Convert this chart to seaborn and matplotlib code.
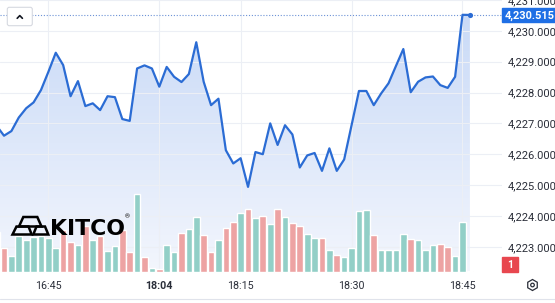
import numpy as np
import pandas as pd
import matplotlib
matplotlib.use("Agg")
import matplotlib.pyplot as plt
import seaborn as sns
from matplotlib.patches import Polygon, FancyBboxPatch, Rectangle, RegularPolygon, Circle
from matplotlib.lines import Line2D
from matplotlib.transforms import Affine2D
from matplotlib.colors import LinearSegmentedColormap

# ---------------- data ----------------
times = [
    "16:38", "16:39", "16:40", "16:41", "16:42", "16:43", "16:44", "16:45", "16:46", "16:47",
    "16:48", "16:49", "16:50", "16:51", "16:52", "16:53", "16:54", "16:55", "16:56", "16:57",
    "16:58", "16:59",
    "18:04", "18:05", "18:06", "18:07", "18:08", "18:09", "18:10", "18:11", "18:12", "18:13",
    "18:14", "18:15", "18:16", "18:17", "18:18", "18:19", "18:20", "18:21", "18:22", "18:23",
    "18:24", "18:25", "18:26", "18:27", "18:28", "18:29", "18:30", "18:31", "18:32", "18:33",
    "18:34", "18:35", "18:36", "18:37", "18:38", "18:39", "18:40", "18:41", "18:42", "18:43",
    "18:44", "18:45", "18:46",
]
prices = [
    4226.92, 4226.60, 4226.75, 4227.19, 4227.49, 4227.68, 4228.08, 4228.67, 4229.29, 4228.89,
    4227.88, 4228.37, 4227.56, 4227.65, 4227.43, 4227.88, 4227.85, 4227.14, 4227.08, 4228.78,
    4228.88, 4228.78,
    4228.19, 4228.83, 4228.51, 4228.34, 4228.60, 4229.63, 4228.35, 4227.59, 4227.80, 4226.13,
    4225.70, 4225.87, 4224.94, 4226.07, 4226.00, 4227.00, 4226.30, 4226.94, 4226.64, 4225.57,
    4225.96, 4226.04, 4225.46, 4226.19, 4225.46, 4225.83, 4226.94, 4228.05, 4228.05, 4227.59,
    4227.97, 4228.30, 4228.86, 4229.41, 4228.01, 4228.35, 4228.49, 4228.52, 4228.24, 4228.15,
    4228.51, 4230.52, 4230.515,
]
volumes = [
    40.0, 24.4, 15.7, 36.4, 32.4, 34.7, 36.4, 34.0, 24.4, 41.7,
    30.0, 26.7, 45.7, 32.4, 36.4, 21.4, 25.7, 41.7, 20.0, 78.4,
    15.0, 4.4,
    3.0, 26.7, 20.0, 39.4, 43.0, 54.7, 36.7, 20.0, 31.7, 43.7,
    50.4, 59.4, 62.7, 53.7, 55.7, 47.7, 62.7, 54.7, 49.4, 45.7,
    38.4, 34.0, 34.0, 21.7, 16.7, 15.0, 24.0, 61.0, 61.7, 36.7,
    21.7, 21.7, 22.4, 38.4, 33.4, 31.7, 22.4, 26.7, 27.7, 25.0,
    15.7, 50.4, 1.0,
]
direction = [
    "up", "down", "up", "up", "up", "up", "up", "up", "up", "down",
    "down", "up", "down", "up", "down", "up", "up", "down", "down", "up",
    "down", "up",
    "down", "up", "up", "down", "up", "up", "down", "down", "up", "down",
    "down", "up", "down", "up", "down", "up", "down", "up", "down", "down",
    "up", "up", "down", "up", "down", "up", "up", "up", "up", "down",
    "up", "up", "up", "up", "down", "up", "up", "up", "down", "down",
    "up", "up", "down",
]
tick_times = ["16:45", "18:04", "18:15", "18:30", "18:45"]
bold_tick = "18:04"
price_ticks = [4223, 4224, 4225, 4226, 4227, 4228, 4229, 4230, 4231]
last_price = 4230.515
badge_text = "1"

# ---------------- style ----------------
sns.set_theme(style="white")
plt.rcParams["font.family"] = ["Roboto", "DejaVu Sans"]

LINE = "#2b6cd4"
UP = "#92cfc7"
DOWN = "#eda3a3"
TXT = "#2a2e39"
GRID = "#eceff5"

W, H = 555, 303
fig = plt.figure(figsize=(W / 100, H / 100), dpi=100)
fig.patch.set_facecolor("white")
PX = Affine2D().scale(1 / W, -1 / H).translate(0, 1) + fig.transFigure

plot_right, plot_bottom = 502, 272
ax = fig.add_axes([0, (H - plot_bottom) / H, plot_right / W, plot_bottom / H])
ax_vol = ax.twinx()
ax_vol.set_zorder(ax.get_zorder() + 1)
ax_vol.patch.set_visible(False)

df = pd.DataFrame({"time": times, "price": prices, "volume": volumes, "dir": direction})
df["pos"] = np.arange(len(df))

y_lo, y_hi = 4222.181, 4231.0
x_lo, x_hi = 1 - 4 / 7.395, 1 + 498 / 7.395

# gradient area under the line
poly = ax.fill_between(df["pos"], df["price"], y_lo, color="none", lw=0)
cmap = LinearSegmentedColormap.from_list("g", ["#f3f6fd", "#c9daf7"])
grad = np.linspace(0, 1, 256).reshape(-1, 1)
im = ax.imshow(grad, extent=[df["pos"].min(), df["pos"].max(), y_lo, max(prices)],
               origin="lower", aspect="auto", cmap=cmap, zorder=0.5)
im.set_clip_path(poly.get_paths()[0], transform=ax.transData)

# grid
for p in price_ticks:
    ax.axhline(p, color=GRID, lw=0.8, zorder=0.8)
tick_pos = [df.loc[df["time"] == t, "pos"].iloc[0] for t in tick_times]
for xp in tick_pos:
    ax.axvline(xp, color=GRID, lw=0.8, zorder=0.8)

# price line
sns.lineplot(data=df, x="pos", y="price", ax=ax, color=LINE, linewidth=1.6,
             solid_joinstyle="round", zorder=3)
ax.axhline(last_price, color="#6d92d6", lw=0.8, ls=(0, (1, 1.6)), zorder=2)
ax.scatter([df["pos"].iloc[-1]], [prices[-1]], s=14, color=LINE, zorder=4, lw=0)

# volume bars
sns.barplot(data=df, x="pos", y="volume", hue="dir", palette={"up": UP, "down": DOWN},
            native_scale=True, dodge=False, width=0.9, saturation=1, errorbar=None,
            legend=False, ax=ax_vol)
ax_vol.set_ylim(0, plot_bottom)
ax_vol.set_yticks([])
ax_vol.set_ylabel("")
ax_vol.set_xlabel("")

# axes formatting
ax.set_ylim(y_lo, y_hi)
ax.set_xlim(x_lo, x_hi)
ax.yaxis.tick_right()
ax.set_yticks(price_ticks)
ax.set_yticklabels([f"{p:,.3f}" for p in price_ticks])
ax.set_xticks(tick_pos)
ax.set_xticklabels(tick_times)
for lab in ax.get_xticklabels():
    if lab.get_text() == bold_tick:
        lab.set_fontweight("bold")
ax.tick_params(axis="y", length=0, pad=3.8, labelsize=8.0, labelcolor=TXT)
ax.tick_params(axis="x", length=0, pad=6.2, labelsize=7.7, labelcolor=TXT)
ax.set_xlabel("")
ax.set_ylabel("")
for a in (ax, ax_vol):
    for s in a.spines.values():
        s.set_visible(False)

# ---------------- decorations (pixel coordinates) ----------------
# last price label
fig.add_artist(Rectangle((502, 8), 53, 14, transform=PX, color="#1f6fe5", zorder=5))
fig.text(505, 15.5, f"{last_price:,.3f}", transform=PX, color="white", fontsize=7.9,
         fontweight="bold", va="center", ha="left", zorder=6)
# badge
fig.add_artist(Rectangle((502, 257), 16, 15, transform=PX, color="#e8474f", zorder=5))
fig.text(510, 264.8, badge_text, transform=PX, color="white", fontsize=7.5,
         fontweight="bold", va="center", ha="center", zorder=6)
# collapse button
fig.add_artist(FancyBboxPatch((7.3, 7.3), 25, 18.4, boxstyle="round,pad=0,rounding_size=2",
                              transform=PX, facecolor="white", edgecolor="#d6d9e0", lw=0.8, zorder=5))
fig.add_artist(Line2D([17.2, 19.8, 22.4], [18.3, 15.6, 18.3], transform=PX, color="#131722",
                      lw=1.2, zorder=6, solid_capstyle="round"))
# settings gear
fig.add_artist(RegularPolygon((532.5, 285), 6, radius=5.5, transform=PX, facecolor="none",
                              edgecolor=TXT, lw=0.9, zorder=5))
fig.add_artist(Circle((532.5, 285), 1.8, transform=PX, facecolor="none", edgecolor=TXT,
                      lw=0.9, zorder=5))
# bottom separator
fig.add_artist(Line2D([0, W], [299, 299], transform=PX, color="#e0e3eb", lw=0.8, zorder=5))

# KITCO logo
logo_shapes = [
    [(23.3, 217.0), (37.3, 217.0), (41.5, 226.5), (19.0, 226.5)],
    [(16.5, 226.5), (28.5, 226.5), (31.7, 234.5), (12.5, 234.5)],
    [(36.5, 226.5), (45.0, 226.5), (48.3, 234.5), (33.3, 234.5)],
]
for shp in logo_shapes:
    fig.add_artist(Polygon(shp, closed=True, transform=PX, facecolor="none", edgecolor="black",
                           lw=1.8, joinstyle="miter", zorder=7))
fig.text(49.5, 235, "KITCO", transform=PX, fontsize=15.8, fontweight="bold", color="black",
         family="DejaVu Sans", va="baseline", ha="left", zorder=7)
fig.text(125, 216.5, "®", transform=PX, fontsize=4.5, color="black", va="center",
         ha="left", zorder=7)

fig.savefig("out.png", dpi=100)
